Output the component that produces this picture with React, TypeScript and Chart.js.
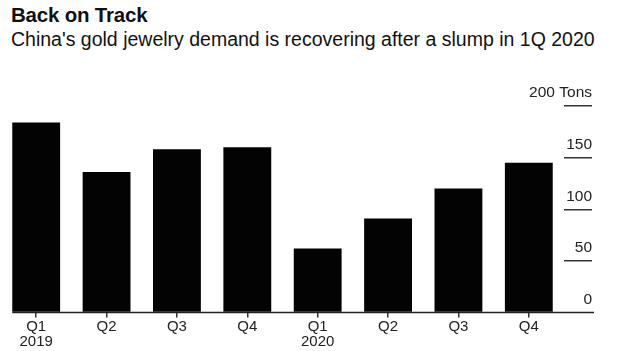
import React, { useEffect, useRef } from "react";
import { Chart, registerables } from "chart.js";

Chart.register(...registerables);

const TITLE = "Back on Track";
const SUBTITLE = "China's gold jewelry demand is recovering after a slump in 1Q 2020";
const quarters: (string | string[])[] = [["Q1", "2019"], "Q2", "Q3", "Q4", ["Q1", "2020"], "Q2", "Q3", "Q4"];
const demandTons = [184, 136, 158, 160, 62, 91, 120, 145];
const yTicks = [0, 50, 100, 150, 200];
const yUnit = "Tons";

const FONT = "'Liberation Sans', Arial, Helvetica, sans-serif";

const baselinePlugin = {
  id: "baseline",
  afterDatasetsDraw(chart: any) {
    const meta = chart.getDatasetMeta(0);
    const first = meta.data[0] as any;
    const ys = chart.scales.y;
    const y0 = ys.getPixelForValue(0);
    const ctx = chart.ctx;
    ctx.save();
    ctx.strokeStyle = "#222";
    ctx.lineWidth = 1.5;
    ctx.beginPath();
    ctx.moveTo(first.x - first.width / 2, y0);
    ctx.lineTo(ys.right + 2, y0);
    ctx.stroke();
    ctx.restore();
  },
};

export default function App() {
  const ref = useRef<HTMLCanvasElement>(null);
  useEffect(() => {
    if (!ref.current) return;
    const chart = new Chart(ref.current, {
      type: "bar",
      data: {
        labels: quarters,
        datasets: [
          {
            data: demandTons,
            backgroundColor: "#030303",
            borderWidth: 0,
            barPercentage: 0.68,
            categoryPercentage: 1,
          },
        ],
      },
      options: {
        animation: false,
        responsive: false,
        maintainAspectRatio: false,
        layout: { padding: { top: 106, right: 28, bottom: 0, left: 1 } },
        plugins: { legend: { display: false }, tooltip: { enabled: false }, title: { display: false } },
        scales: {
          x: {
            grid: { display: true, drawOnChartArea: false, drawTicks: true, tickLength: 5, offset: false, color: "#333", lineWidth: 1.5 },
            border: { display: false },
            ticks: { color: "#222", padding: 1, font: { family: FONT, size: 15, lineHeight: 1.05 }, maxRotation: 0, autoSkip: false },
          },
          y: {
            position: "right",
            min: 0,
            max: 200,
            afterBuildTicks: (axis: any) => {
              axis.ticks = yTicks.map((v) => ({ value: v }));
            },
            afterFit: (axis: any) => {
              axis.width = 28;
            },
            grid: { display: true, drawOnChartArea: false, drawTicks: true, tickLength: 28, color: (c: any) => (c.tick && c.tick.value === 0 ? "rgba(0,0,0,0)" : "#333"), lineWidth: 1.5 },
            border: { display: false },
            ticks: {
              mirror: true,
              padding: 28,
              labelOffset: -13,
              color: "#222",
              font: { family: FONT, size: 15.5 },
              callback: (v: any) => (v === 200 ? `${v} ${yUnit}` : `${v}`),
            },
          },
        },
      },
      plugins: [baselinePlugin],
    });
    return () => chart.destroy();
  }, []);
  return (
    <div style={{ position: "fixed", left: 0, top: 0, width: 620, height: 351, background: "#fff", fontFamily: FONT, color: "#111" }}>
      <div style={{ position: "absolute", left: 11, top: 3, fontSize: 20.5, fontWeight: 700, letterSpacing: -0.2, whiteSpace: "nowrap" }}>{TITLE}</div>
      <div style={{ position: "absolute", left: 11, top: 28, fontSize: 19.5, whiteSpace: "nowrap" }}>{SUBTITLE}</div>
      <canvas ref={ref} width={620} height={351} style={{ position: "absolute", left: 0, top: 0, width: 620, height: 351 }} />
    </div>
  );
}
